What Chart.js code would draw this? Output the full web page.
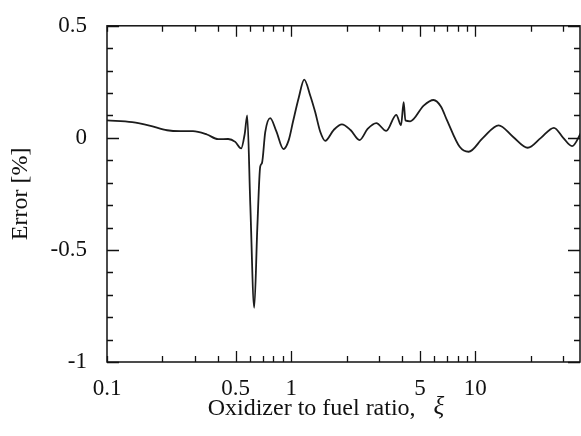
<!DOCTYPE html>
<html>
<head>
<meta charset="utf-8">
<script src="https://cdn.jsdelivr.net/npm/chart.js@4"></script>
<style>
  body { margin: 0; background: #fff; }
</style>
</head>
<body>
<canvas id="errorChart" width="581" height="436"></canvas>
<script>
// Valores: razão oxidante/combustível e erro [%]
const ratio = [0.1, 0.137, 0.17, 0.212, 0.25, 0.293, 0.349, 0.401, 0.455, 0.497, 0.535, 0.56, 0.577, 0.60, 0.63, 0.655, 0.679, 0.694, 0.723, 0.769, 0.83, 0.908, 0.97, 1.025, 1.1, 1.177, 1.27, 1.35, 1.44, 1.53, 1.7, 1.886, 2.1, 2.35, 2.6, 2.90, 3.28, 3.72, 3.95, 4.08, 4.17, 4.43, 5.24, 5.93, 6.5, 7.02, 8.22, 9.19, 11, 13.38, 16, 19.24, 22.7, 26.7, 30, 33.5, 37.7];
const errorPct = [0.078, 0.07, 0.055, 0.034, 0.03, 0.03, 0.015, -0.006, -0.005, -0.018, -0.047, 0.02, 0.10, -0.3, -0.758, -0.4, -0.128, -0.113, 0.026, 0.088, 0.03, -0.05, -0.01, 0.075, 0.18, 0.26, 0.188, 0.115, 0.026, -0.013, 0.035, 0.06, 0.035, -0.01, 0.04, 0.066, 0.031, 0.103, 0.056, 0.159, 0.078, 0.074, 0.144, 0.169, 0.14, 0.078, -0.04, -0.062, 0.0, 0.056, 0.005, -0.044, 0.0, 0.045, 0.0, -0.037, 0.026];

// Marcas dos eixos
const xTickValues = [0.1, 0.2, 0.3, 0.4, 0.5, 0.6, 0.7, 0.8, 0.9, 1, 2, 3, 4, 5, 6, 7, 8, 9, 10, 20, 30];
const xMajorTicks = [0.5, 1, 5, 10];
const xTickLabels = ['0.1', '0.5', '1', '5', '10'];
const yTickValues = [-1, -0.9, -0.8, -0.7, -0.6, -0.5, -0.4, -0.3, -0.2, -0.1, 0, 0.1, 0.2, 0.3, 0.4, 0.5];
const yTickLabels = ['-1', '-0.5', '0', '0.5'];

const serif = '"Liberation Serif", "Times New Roman", serif';

// Desenha a moldura e as marcas para dentro (estilo do gráfico original)
const frameTicks = {
    id: 'frameTicks',
    afterDraw(chart) {
        const { ctx, chartArea: a, scales } = chart;
        const xs = scales.x, ys = scales.y;
        ctx.save();
        ctx.strokeStyle = '#111';
        ctx.lineWidth = 1.5;
        ctx.strokeRect(a.left, a.top, a.right - a.left, a.bottom - a.top);

        ctx.lineWidth = 1.3;
        ctx.beginPath();
        yTickValues.forEach(v => {
            const y = Math.round(ys.getPixelForValue(v)) + 0.5;
            const len = Math.abs(v * 2 - Math.round(v * 2)) < 1e-6 ? 12 : 6;
            ctx.moveTo(a.left, y); ctx.lineTo(a.left + len, y);
            ctx.moveTo(a.right, y); ctx.lineTo(a.right - len, y);
        });
        xTickValues.forEach(v => {
            const x = Math.round(xs.getPixelForValue(v)) + 0.5;
            const len = xMajorTicks.includes(v) ? 11 : 6;
            ctx.moveTo(x, a.bottom); ctx.lineTo(x, a.bottom - len);
            ctx.moveTo(x, a.top); ctx.lineTo(x, a.top + len);
        });
        ctx.stroke();

        // Título do eixo x
        ctx.fillStyle = '#111';
        ctx.textBaseline = 'middle';
        ctx.textAlign = 'left';
        ctx.font = '24px ' + serif;
        const main = 'Oxidizer to fuel ratio,   ';
        const w1 = ctx.measureText(main).width;
        ctx.font = 'italic 25px ' + serif;
        const w2 = ctx.measureText('ξ').width;
        const startX = 326 - (w1 + w2) / 2;
        ctx.font = '24px ' + serif;
        ctx.fillText(main, startX, 409);
        ctx.font = 'italic 25px ' + serif;
        ctx.fillText('ξ', startX + w1, 407);
        ctx.restore();
    }
};

const ctx = document.getElementById('errorChart').getContext('2d');

new Chart(ctx, {
    type: 'line',
    data: {
        datasets: [{
            data: ratio.map((r, i) => ({ x: r, y: errorPct[i] })),
            borderColor: '#1c1c1c',
            borderWidth: 1.8,
            pointRadius: 0,
            fill: false,
            cubicInterpolationMode: 'monotone'
        }]
    },
    options: {
        responsive: false,
        devicePixelRatio: 1,
        animation: false,
        layout: { padding: { top: 22, right: 1, left: 0, bottom: 0 } },
        plugins: {
            legend: { display: false },
            tooltip: { enabled: false }
        },
        scales: {
            x: {
                type: 'logarithmic',
                min: 0.1,
                max: 37,
                grid: { display: false },
                border: { display: false },
                afterBuildTicks: scale => {
                    scale.ticks = xTickValues.map(v => ({ value: v }));
                },
                afterFit: scale => { scale.height = 74; },
                ticks: {
                    autoSkip: false,
                    maxRotation: 0,
                    padding: 5,
                    color: '#111',
                    font: { family: serif, size: 23 },
                    callback: v => {
                        const s = String(v);
                        return xTickLabels.includes(s) ? s : '';
                    }
                }
            },
            y: {
                min: -1,
                max: 0.5,
                grid: { display: false },
                border: { display: false },
                afterBuildTicks: scale => {
                    scale.ticks = yTickLabels.map(s => ({ value: parseFloat(s) }));
                },
                afterFit: scale => { scale.width = 107; },
                ticks: {
                    padding: 12,
                    color: '#111',
                    font: { family: serif, size: 23 },
                    callback: v => String(v)
                },
                title: {
                    display: true,
                    text: 'Error [%]',
                    color: '#111',
                    font: { family: serif, size: 24 },
                    padding: { top: 6, bottom: 0 }
                }
            }
        }
    },
    plugins: [frameTicks]
});
</script>
</body>
</html>
